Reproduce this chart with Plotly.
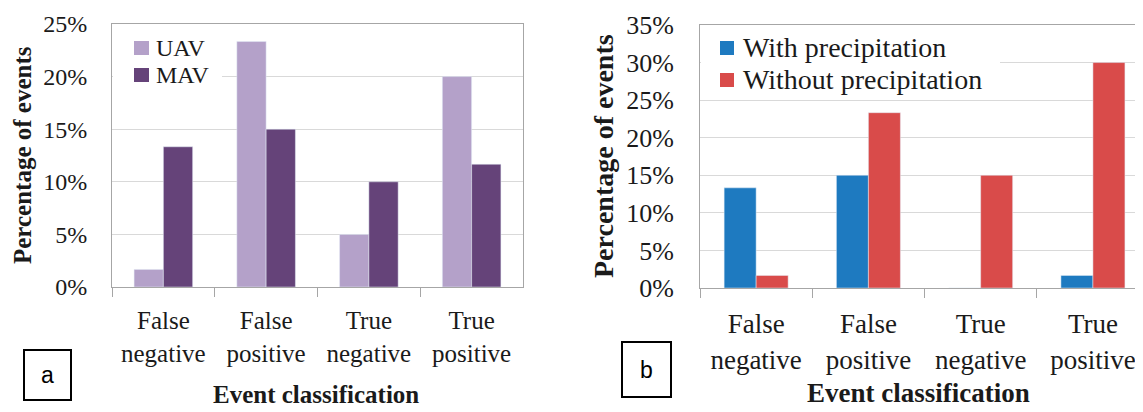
import plotly.graph_objects as go

categories = ["False<br>negative", "False<br>positive", "True<br>negative", "True<br>positive"]

# panel a: percentage of events by vehicle
uav = [1.67, 23.33, 5.0, 20.0]
mav = [13.33, 15.0, 10.0, 11.67]

# panel b: percentage of events by weather
with_precip = [13.33, 15.0, 0.0, 1.67]
without_precip = [1.67, 23.33, 15.0, 30.0]

W, H = 1143, 412
OFF = 8  # the page body has an 8px margin
SERIF = "Liberation Serif"
GRID = "#d9d9d9"
FRAME = "#a6a6a6"
TXT = "#1a1a1a"
C_UAV, C_MAV = "#b4a1c9", "#654379"
C_WITH, C_WITHOUT = "#1e7ac0", "#d94b4a"


def px_x(v):
    return (v - OFF) / (W - OFF)


def px_y(v):
    return 1 - (v - OFF) / (H - OFF)


fig = go.Figure()
fig.add_trace(go.Bar(x=categories, y=uav, name="UAV", marker_color=C_UAV, xaxis="x", yaxis="y"))
fig.add_trace(go.Bar(x=categories, y=mav, name="MAV", marker_color=C_MAV, xaxis="x", yaxis="y"))
fig.add_trace(go.Bar(x=categories, y=with_precip, name="With precipitation", marker_color=C_WITH,
                     xaxis="x2", yaxis="y2"))
fig.add_trace(go.Bar(x=categories, y=without_precip, name="Without precipitation", marker_color=C_WITHOUT,
                     xaxis="x2", yaxis="y2"))

xcommon = dict(showline=True, linecolor=FRAME, linewidth=1, mirror=True,
               ticks="outside", tickson="boundaries", ticklen=9, tickcolor=FRAME,
               showgrid=False, zeroline=False, fixedrange=True, automargin=False)
ycommon = dict(showline=True, linecolor=FRAME, linewidth=1, mirror=True,
               gridcolor=GRID, gridwidth=1, zeroline=False, ticksuffix="%",
               dtick=5, ticks="", fixedrange=True, automargin=False)

fig.update_layout(
    width=W - OFF, height=H - OFF,
    margin=dict(l=0, r=0, t=0, b=0, autoexpand=False),
    paper_bgcolor="white", plot_bgcolor="white",
    barmode="group", bargap=0.43, bargroupgap=0, showlegend=False,
    font=dict(family=SERIF, color=TXT),
    xaxis=dict(xcommon, domain=[px_x(112), px_x(523)], anchor="y", range=[-0.5, 3.5],
               tickfont=dict(size=25), ticklabelstandoff=11),
    yaxis=dict(ycommon, domain=[px_y(287), px_y(24)], anchor="x", range=[0, 25],
               tickfont=dict(size=24), ticklabelstandoff=19),
    xaxis2=dict(xcommon, domain=[px_x(700), 1.0], anchor="y2", range=[-0.5, 3.446],
                tickfont=dict(size=27), ticklabelstandoff=12),
    yaxis2=dict(ycommon, domain=[px_y(288), px_y(25)], anchor="x2", range=[0, 35],
                tickfont=dict(size=26), ticklabelstandoff=20),
)


def paper_text(text, x, y, size, angle=0, xanchor="center", family=SERIF, color=TXT):
    fig.add_annotation(text=text, x=px_x(x), y=px_y(y), xref="paper", yref="paper",
                       xanchor=xanchor, yanchor="middle", textangle=angle, showarrow=False,
                       font=dict(size=size, family=family, color=color))


def paper_rect(x0, x1, y0, y1, fill=None, line=None, width=0):
    fig.add_shape(type="rect", xref="paper", yref="paper", layer="above",
                  x0=px_x(x0), x1=px_x(x1), y0=px_y(y1), y1=px_y(y0),
                  fillcolor=fill, line=dict(color=line or "rgba(0,0,0,0)", width=width))


# legends (white backing hides the gridline underneath)
paper_rect(113, 222, 30, 90, fill="white")
for name, color, yc in [("UAV", C_UAV, 48), ("MAV", C_MAV, 75)]:
    paper_rect(134, 149, yc - 7, yc + 7, fill=color)
    paper_text(name, 154, yc, 24, xanchor="left")

paper_rect(701, 1000, 30, 94, fill="white")
for name, color, yc in [("With precipitation", C_WITH, 48), ("Without precipitation", C_WITHOUT, 80)]:
    paper_rect(720, 734, yc - 7, yc + 7, fill=color)
    paper_text(name, 741, yc, 28, xanchor="left")

# axis titles
paper_text("<b>Percentage of events</b>", 22, 155, 25, angle=-90)
paper_text("<b>Percentage of events</b>", 603, 156, 28, angle=-90)
paper_text("<b>Event classification</b>", 316, 394, 25)
paper_text("<b>Event classification</b>", 918, 393, 27)

# panel letters in boxes
for letter, x0, x1, y0, y1 in [("a", 24, 71, 350, 400), ("b", 622, 671, 342, 397)]:
    paper_rect(x0, x1, y0, y1, line="black", width=2)
    paper_text(letter, (x0 + x1) / 2, (y0 + y1) / 2, 23, family="Liberation Sans", color="black")

fig.write_html("out.html")
